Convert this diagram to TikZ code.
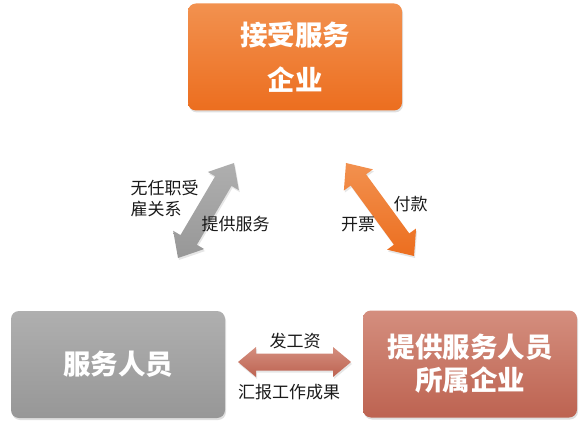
\documentclass[tikz,border=0pt]{standalone}
\usepackage{fontspec}
\newfontfamily\cjk{Noto Sans CJK SC}
\usetikzlibrary{calc,shadows}

\definecolor{orangetop}{HTML}{F2914F}
\definecolor{orangebot}{HTML}{EC6E1F}
\definecolor{graytop}{HTML}{AFAFAF}
\definecolor{graybot}{HTML}{979797}
\definecolor{rusttop}{HTML}{D48E7E}
\definecolor{rustbot}{HTML}{BD6351}
\definecolor{labelgray}{HTML}{1A1A1A}

% fat double arrow: tip, tip, head length, shaft half width, head half width, style
\newcommand{\fatarrow}[6]{%
  \coordinate (h1) at ($(#1)!#3!(#2)$);
  \coordinate (h2) at ($(#2)!#3!(#1)$);
  \path[#6] (#1) -- ($(h1)!#5!90:(#2)$) -- ($(h1)!#4!90:(#2)$)
    -- ($(h2)!#4!-90:(#1)$) -- ($(h2)!#5!-90:(#1)$) -- (#2)
    -- ($(h2)!#5!90:(#1)$) -- ($(h2)!#4!90:(#1)$)
    -- ($(h1)!#4!-90:(#2)$) -- ($(h1)!#5!-90:(#2)$) -- cycle;}

\tikzset{
  box/.style={rounded corners=8pt, minimum width=214pt, minimum height=107pt,
    text=white, align=center, font=\cjk\bfseries\fontsize{27.5}{33}\selectfont,
    drop shadow={opacity=0.25, shadow xshift=1pt, shadow yshift=-2pt}},
  lbl/.style={text=labelgray, align=left, inner sep=0pt,
    font=\cjk\fontsize{17}{21}\selectfont},
  arrowshadow/.style={drop shadow={opacity=0.2, shadow xshift=1pt, shadow yshift=-2pt}}
}

\begin{document}
\begin{tikzpicture}[x=1pt, y=-1pt]
    \useasboundingbox (0,0) rectangle (588,435);
    % boxes:
    \node [box, top color=orangetop, bottom color=orangebot] (client) at (295,57)
      {接受服务\\[12pt]企业};
    \node [box, top color=graytop, bottom color=graybot] (staff) at (118,364.5) {服务人员};
    \node [box, top color=rusttop, bottom color=rustbot] (provider) at (470,364) {提供服务人员\\所属企业};
    % arrow ends:
    \coordinate (staffup) at (178,258);
    \coordinate (clientdl) at (234,163);
    \coordinate (clientdr) at (346,163);
    \coordinate (providerup) at (414,256);
    \coordinate (staffright) at (238,362);
    \coordinate (providerleft) at (351,362);
    % arrows:
    \fatarrow{staffup}{clientdl}{21pt}{9.5pt}{18pt}{top color=graytop, bottom color=graybot, arrowshadow}
    \fatarrow{clientdr}{providerup}{21pt}{9.5pt}{18pt}{top color=orangetop, bottom color=orangebot, arrowshadow}
    \fatarrow{staffright}{providerleft}{18pt}{8.5pt}{15pt}{top color=rusttop, bottom color=rustbot, arrowshadow}
    % labels:
    \node [lbl] (nocontract) at (164.5,198.5) {无任职受\\雇关系};
    \node [lbl] (serve) at (235.5,224) {提供服务};
    \node [lbl] (invoice) at (358,224) {开票};
    \node [lbl] (pay) at (410.5,204) {付款};
    \node [lbl] (salary) at (295,341) {发工资};
    \node [lbl] (report) at (289,392) {汇报工作成果};
\end{tikzpicture}
\end{document}
